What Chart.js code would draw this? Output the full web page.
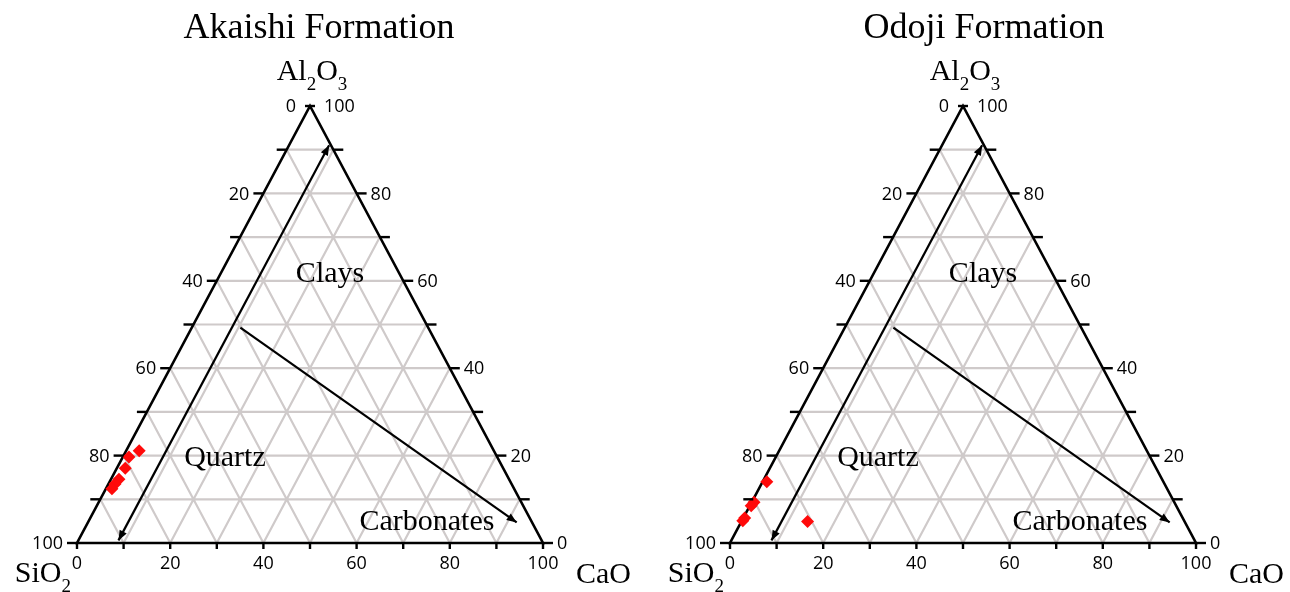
<!DOCTYPE html>
<html>
<head>
<meta charset="utf-8">
<script src="https://cdn.jsdelivr.net/npm/chart.js@4.4.0/dist/chart.umd.min.js"></script>
<style>
  html, body { margin: 0; padding: 0; background: #fff; }
  #wrap { width: 1290px; height: 592px; display: flex; }
  canvas { display: block; }
</style>
</head>
<body>
<div id="wrap">
  <canvas id="akaishi" width="645" height="592"></canvas>
  <canvas id="odoji" width="645" height="592"></canvas>
</div>
<script>
// Sample compositions, wt% normalised to SiO2 + Al2O3 + CaO = 100
const akaishiAl2O3 = [21.1, 19.7, 17.1, 14.6, 13.5, 12.4];
const akaishiCaO   = [2.8, 1.3, 1.8, 1.7, 1.4, 1.3];
const akaishiSiO2  = [76.1, 79.0, 81.1, 83.7, 85.1, 86.3];

const odojiAl2O3 = [14.0, 9.3, 8.5, 5.7, 5.1, 4.9];
const odojiCaO   = [0.9, 0.5, 0.3, 0.3, 0.2, 14.2];
const odojiSiO2  = [85.1, 90.2, 91.2, 94.0, 94.7, 80.9];

// Axis ticks every 10 %, labels every 20 %
const tickValues  = [0, 10, 20, 30, 40, 50, 60, 70, 80, 90, 100];
const labelValues = [0, 20, 40, 60, 80, 100];

// Trend arrows: Al2O3 and CaO at both ends
const quartzClayAl2O3 = [0.6, 91];
const quartzClayCaO   = [8.6, 8.6];
const carbonateAl2O3  = [49.3, 4.7];
const carbonateCaO    = [10.4, 92.0];

// Compositional fields
const fieldNames = ['Clays', 'Quartz', 'Carbonates'];

const SERIF = '"Liberation Serif", "Times New Roman", serif';
const SANS = '"Open Sans", "Liberation Sans", sans-serif';

// ternary -> cartesian (x along the SiO2–CaO base, y = Al2O3)
function toXY(al2o3, cao) {
  return { x: cao + al2o3 / 2, y: al2o3 };
}

function gridData() {
  const pts = [];
  const gap = { x: null, y: null };
  tickValues.slice(1, -1).forEach(k => {
    // constant Al2O3
    pts.push(toXY(k, 0), toXY(k, 100 - k), gap);
    // constant CaO
    pts.push(toXY(0, k), toXY(100 - k, k), gap);
    // constant SiO2
    pts.push(toXY(0, 100 - k), toXY(100 - k, 0), gap);
  });
  return pts;
}

function drawFormula(ctx, parts, x, y, align) {
  const big = '30px ' + SERIF, small = '19px ' + SERIF;
  let w = 0;
  parts.forEach(([t, sub]) => { ctx.font = sub ? small : big; w += ctx.measureText(t).width; });
  let cx = align === 'center' ? x - w / 2 : align === 'right' ? x - w : x;
  ctx.textAlign = 'left';
  ctx.textBaseline = 'alphabetic';
  parts.forEach(([t, sub]) => {
    ctx.font = sub ? small : big;
    ctx.fillText(t, cx, sub ? y + 10 : y);
    cx += ctx.measureText(t).width;
  });
}

function arrowHead(ctx, from, to) {
  const ang = Math.atan2(to[1] - from[1], to[0] - from[0]);
  const len = 10, half = 4;
  ctx.save();
  ctx.translate(to[0], to[1]);
  ctx.rotate(ang);
  ctx.beginPath();
  ctx.moveTo(0, 0);
  ctx.lineTo(-len, -half);
  ctx.lineTo(-len, half);
  ctx.closePath();
  ctx.fill();
  ctx.restore();
}

// Axis ticks, labels, arrowheads and text of the ternary frame
const ternaryFrame = {
  id: 'ternaryFrame',
  afterDatasetsDraw(chart, args, opts) {
    const { ctx, scales: { x, y } } = chart;
    const px = (a, c) => [x.getPixelForValue(c + a / 2), y.getPixelForValue(a)];
    ctx.save();
    ctx.strokeStyle = '#000';
    ctx.fillStyle = '#000';
    ctx.lineWidth = 2.4;

    // arrowheads
    arrowHead(ctx, px(quartzClayAl2O3[1], quartzClayCaO[1]), px(quartzClayAl2O3[0], quartzClayCaO[0]));
    arrowHead(ctx, px(quartzClayAl2O3[0], quartzClayCaO[0]), px(quartzClayAl2O3[1], quartzClayCaO[1]));
    arrowHead(ctx, px(carbonateAl2O3[0], carbonateCaO[0]), px(carbonateAl2O3[1], carbonateCaO[1]));

    ctx.font = '18px ' + SANS;
    ctx.textBaseline = 'middle';
    tickValues.forEach(t => {
      const len = t === 100 ? 5 : 10;
      // left side: SiO2
      let [ex, ey] = px(t, 0);
      ctx.beginPath(); ctx.moveTo(ex - len, ey); ctx.lineTo(ex, ey); ctx.stroke();
      if (labelValues.includes(t)) {
        ctx.textAlign = 'right';
        ctx.fillText(String(100 - t), ex - 14, ey + 1);
      }
      // right side: Al2O3
      [ex, ey] = px(t, 100 - t);
      ctx.beginPath(); ctx.moveTo(ex, ey); ctx.lineTo(ex + len, ey); ctx.stroke();
      if (labelValues.includes(t)) {
        ctx.textAlign = 'left';
        ctx.fillText(String(t), ex + 14, ey + 1);
      }
      // base: CaO
      [ex, ey] = px(0, t);
      ctx.beginPath(); ctx.moveTo(ex, ey); ctx.lineTo(ex, ey + 6); ctx.stroke();
      if (labelValues.includes(t)) {
        ctx.textAlign = 'center';
        ctx.fillText(String(t), ex, ey + 21);
      }
    });

    // oxide end-members
    const top = px(100, 0), bl = px(0, 0), br = px(0, 100);
    drawFormula(ctx, [['Al', 0], ['2', 1], ['O', 0], ['3', 1]], top[0] + 2, top[1] - 26, 'center');
    drawFormula(ctx, [['SiO', 0], ['2', 1]], bl[0] - 6, bl[1] + 39, 'right');
    drawFormula(ctx, [['CaO', 0]], br[0] + 33, br[1] + 40, 'left');

    // field names
    ctx.font = '30px ' + SERIF;
    ctx.textAlign = 'center';
    ctx.textBaseline = 'middle';
    opts.fields.forEach((f, i) => {
      const p = toXY(f[0], f[1]);
      ctx.fillText(fieldNames[i], x.getPixelForValue(p.x), y.getPixelForValue(p.y));
    });

    // title
    ctx.font = '36px ' + SERIF;
    ctx.textBaseline = 'alphabetic';
    ctx.fillText(opts.title, top[0] + opts.titleShift, 38);
    ctx.restore();
  }
};

function ternaryChart(id, title, al2o3, cao, sio2, left, titleShift) {
  const samples = al2o3.map((a, i) => toXY(a, cao[i]));
  const frame = [toXY(0, 0), toXY(0, 100), toXY(100, 0), toXY(0, 0), toXY(0, 100)];
  const line = { showLine: true, pointRadius: 0, borderColor: '#000', borderWidth: 2.2, clip: false };
  return new Chart(document.getElementById(id), {
    type: 'scatter',
    data: {
      datasets: [
        { label: 'Samples', data: samples, pointStyle: 'rectRot', pointRadius: 6.5,
          backgroundColor: '#ff0a0a', borderWidth: 0, clip: false },
        { label: 'Quartz–clay', data: quartzClayAl2O3.map((a, i) => toXY(a, quartzClayCaO[i])), ...line },
        { label: 'Carbonate', data: carbonateAl2O3.map((a, i) => toXY(a, carbonateCaO[i])), ...line },
        { label: 'Frame', data: frame, ...line, borderWidth: 2.6, borderJoinStyle: 'miter' },
        { label: 'Grid', data: gridData(), showLine: true, spanGaps: false, pointRadius: 0,
          borderColor: '#cfcaca', borderWidth: 2.2, clip: false }
      ]
    },
    options: {
      responsive: false,
      animation: false,
      events: [],
      layout: { padding: { left: left, right: 645 - left - 466, top: 106, bottom: 49 } },
      scales: {
        x: { type: 'linear', min: 0, max: 100, display: false },
        y: { type: 'linear', min: 0, max: 100, display: false }
      },
      plugins: {
        legend: { display: false },
        tooltip: { enabled: false },
        ternaryFrame: {
          title: title,
          titleShift: titleShift,
          // [Al2O3, CaO] anchor of each field name
          fields: [[61.6, 23.5], [19.5, 22.0], [4.8, 72.7]]
        }
      }
    },
    plugins: [ternaryFrame]
  });
}

ternaryChart('akaishi', 'Akaishi Formation', akaishiAl2O3, akaishiCaO, akaishiSiO2, 77, 9);
ternaryChart('odoji', 'Odoji Formation', odojiAl2O3, odojiCaO, odojiSiO2, 85, 21);
</script>
</body>
</html>
